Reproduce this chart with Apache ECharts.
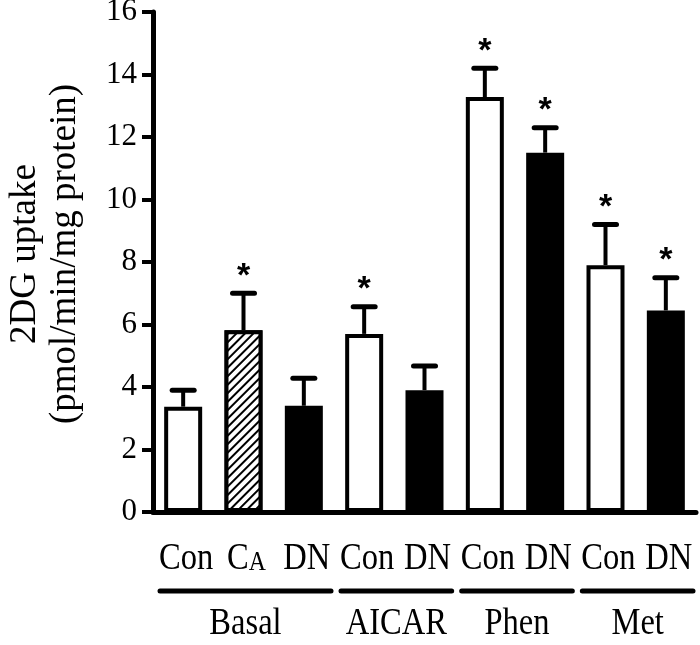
<!DOCTYPE html>
<html><head><meta charset="utf-8">
<script src="https://cdn.jsdelivr.net/npm/echarts/dist/echarts.min.js"></script>
<style>html,body{margin:0;padding:0;background:#fff}#c{width:700px;height:645px}</style>
</head><body><div id="c"></div>
<script>
// ---- data ----
const categories = ['Con', 'CA', 'DN', 'Con', 'DN', 'Con', 'DN', 'Con', 'DN'];
const means = [3.37, 5.82, 3.40, 5.70, 3.90, 13.28, 11.50, 7.90, 6.45];
const sems = [0.53, 1.18, 0.88, 0.87, 0.77, 0.92, 0.80, 1.30, 1.05];
const significant = [false, true, false, true, false, true, true, true, true];
const fills = ['open', 'hatched', 'solid', 'open', 'solid', 'open', 'solid', 'open', 'solid'];
const groups = ['Basal', 'AICAR', 'Phen', 'Met'];
const groupStart = [0, 3, 5, 7];
const groupEnd = [2, 4, 6, 8];
const yMin = 0, yMax = 16, yStep = 2;
const yTitle = ['2DG uptake', '(pmol/min/mg protein)'];

const SERIF = 'Liberation Serif';
const LABEL_SIZE = 37, LABEL_SCALE = 0.88;

function styleFor(kind) {
  if (kind === 'solid') return { color: '#000', borderColor: '#000', borderWidth: 4 };
  if (kind === 'hatched') return {
    color: '#fff', borderColor: '#000', borderWidth: 4,
    decal: { symbol: 'rect', color: '#000', backgroundColor: '#fff', dashArrayX: [1, 0], dashArrayY: [2, 4], rotation: -Math.PI / 4 }
  };
  return { color: '#fff', borderColor: '#000', borderWidth: 4 };
}

const barData = means.map((m, i) => ({ value: m, itemStyle: styleFor(fills[i]) }));
const errData = means.map((m, i) => [i, m, sems[i], significant[i] ? 1 : 0]);
const labelData = categories.map((c, i) => [i, 0]);
const groupData = groups.map((g, k) => [groupStart[k], groupEnd[k], k]);

const chart = echarts.init(document.getElementById('c'), null, { renderer: 'canvas' });
chart.setOption({
  animation: false,
  backgroundColor: '#fff',
  grid: { left: 153, right: 4, top: 12, bottom: 133, containLabel: false, outerBoundsMode: 'none' },
  xAxis: {
    type: 'category', data: categories,
    axisLine: { lineStyle: { color: '#000', width: 5 } },
    axisTick: { show: false },
    axisLabel: { show: false }
  },
  yAxis: {
    type: 'value', min: yMin, max: yMax, interval: yStep,
    name: yTitle.join('\n'), nameLocation: 'middle', nameRotate: 90, nameGap: 68,
    nameTextStyle: { fontFamily: SERIF, fontSize: 37, color: '#000', lineHeight: 40, padding: [0, 0, 0, 16] },
    axisLine: { show: true, lineStyle: { color: '#000', width: 5 } },
    axisTick: { show: true, length: 11, lineStyle: { color: '#000', width: 4 } },
    axisLabel: { margin: 16, color: '#000', fontFamily: SERIF, fontSize: 31, padding: [3, 0, 0, 0] },
    splitLine: { show: false }
  },
  series: [
    { type: 'bar', data: barData, barWidth: 38, z: 2 },
    {
      type: 'custom', data: errData, z: 3, clip: false,
      renderItem: (params, api) => {
        const i = api.value(0), m = api.value(1), s = api.value(2), sig = api.value(3);
        const b = api.coord([i, m]);
        const t = api.coord([i, m + s]);
        const children = [
          { type: 'line', shape: { x1: b[0], y1: b[1], x2: t[0], y2: t[1] }, style: { stroke: '#000', lineWidth: 4 } },
          { type: 'line', shape: { x1: t[0] - 11, y1: t[1], x2: t[0] + 11, y2: t[1] }, style: { stroke: '#000', lineWidth: 5, lineCap: 'round' } }
        ];
        if (sig) children.push({
          type: 'text', style: { text: '*', x: t[0], y: t[1] - 17, align: 'center', verticalAlign: 'middle',
            font: 'bold 34px "Liberation Sans"', fill: '#000' }
        });
        return { type: 'group', children };
      }
    },
    {
      type: 'custom', data: labelData, z: 3, clip: false,
      renderItem: (params, api) => {
        const i = api.value(0);
        const p = api.coord([i, 0]);
        const name = categories[i];
        const txt = name === 'CA' ? '{c|C}{a|A}' : '{n|' + name + '}';
        return {
          type: 'text', x: p[0] + 3, y: p[1] + 47, scaleX: LABEL_SCALE,
          style: {
            text: txt, x: 0, y: 0, align: 'center', verticalAlign: 'middle', fill: '#000',
            rich: {
              n: { fontFamily: SERIF, fontSize: LABEL_SIZE, fill: '#000', verticalAlign: 'bottom', lineHeight: LABEL_SIZE },
              c: { fontFamily: SERIF, fontSize: LABEL_SIZE, fill: '#000', verticalAlign: 'bottom', lineHeight: LABEL_SIZE },
              a: { fontFamily: SERIF, fontSize: 27, fill: '#000', verticalAlign: 'bottom', lineHeight: LABEL_SIZE, padding: [0, 0, 1, 0] }
            }
          }
        };
      }
    },
    {
      type: 'custom', data: groupData, z: 3, clip: false, encode: { x: 0, y: -1 },
      renderItem: (params, api) => {
        const s = api.value(0), e = api.value(1), k = api.value(2);
        const bw = api.size([1, 0])[0];
        const p0 = api.coord([s, 0]);
        const p1 = api.coord([e, 0]);
        const x0 = p0[0] - bw / 2 + 7, x1 = p1[0] + bw / 2 - 3;
        const y = p0[1] + 79;
        return {
          type: 'group', children: [
            { type: 'line', shape: { x1: x0, y1: y, x2: x1, y2: y }, style: { stroke: '#000', lineWidth: 5, lineCap: 'round' } },
            { type: 'text', x: (x0 + x1) / 2, y: y + 33, scaleX: LABEL_SCALE,
              style: { text: groups[k], x: 0, y: 0, align: 'center', verticalAlign: 'middle',
                font: LABEL_SIZE + 'px "Liberation Serif"', fill: '#000' } }
          ]
        };
      }
    }
  ]
});
</script>
</body></html>
